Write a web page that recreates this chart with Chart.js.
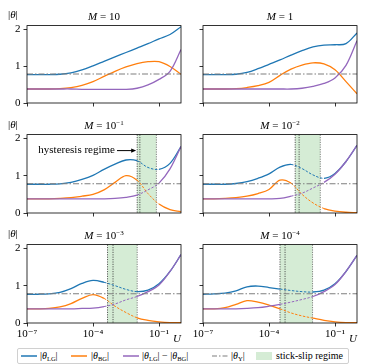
<!DOCTYPE html>
<html>
<head>
<meta charset="utf-8">
<script src="https://cdn.jsdelivr.net/npm/chart.js@4.4.0/dist/chart.umd.min.js"></script>
<style>
  body { margin: 0; background: #fff; width: 367px; height: 364px; position: relative; overflow: hidden;
         font-family: "Liberation Serif", "DejaVu Serif", serif; color: #000; }
  canvas { position: absolute; }
  .ttl { position: absolute; width: 154px; text-align: center; font-size: 11px; line-height: 11px; white-space: nowrap; }
  .lab { position: absolute; font-size: 11px; line-height: 11px; white-space: nowrap; }
  sup { font-size: 7px; line-height: 0; vertical-align: 4px; }
  sub { font-size: 6.5px; line-height: 0; vertical-align: -2px; }
  #legend { position: absolute; left: 17px; top: 348px; width: 330px; height: 14px; border: 1px solid #d0d0d0; border-radius: 2px; }
  #legend span { position: absolute; top: 1px; font-size: 10px; line-height: 12px; white-space: nowrap; }
  #legend svg { position: absolute; top: 0; }
</style>
</head>
<body>
<div id="legend">
  <svg style="left:3px" width="16" height="14"><line x1="0" y1="7" x2="16" y2="7" stroke="#1f77b4" stroke-width="1.5"/></svg>
  <span style="left:22px">|<i>θ</i><sub>LG</sub>|</span>
  <svg style="left:53px" width="16" height="14"><line x1="0" y1="7" x2="16" y2="7" stroke="#ff7f0e" stroke-width="1.5"/></svg>
  <span style="left:73px">|<i>θ</i><sub>BG</sub>|</span>
  <svg style="left:105px" width="16" height="14"><line x1="0" y1="7" x2="16" y2="7" stroke="#9467bd" stroke-width="1.5"/></svg>
  <span style="left:124px">|<i>θ</i><sub>LG</sub>| − |<i>θ</i><sub>BG</sub>|</span>
  <svg style="left:194px" width="16" height="14"><line x1="0" y1="7" x2="16" y2="7" stroke="#7f7f7f" stroke-width="1.2" stroke-dasharray="5,2,1.5,2"/></svg>
  <span style="left:213px">|<i>θ</i><sub>Y</sub>|</span>
  <svg style="left:238px" width="16" height="14"><rect x="0" y="3" width="16" height="8" fill="rgba(44,160,44,0.2)"/></svg>
  <span style="left:258px">stick-slip regime</span>
</div>
<script>
// log-spaced U values shared by all panels
const U = [1e-7, 3.16e-7, 1e-6, 3.16e-6, 1e-5, 3.16e-5, 1e-4, 3.16e-4, 1e-3, 3.16e-3, 1e-2, 3.16e-2, 1e-1, 3.16e-1, 1];
const xTicks = [1e-7, 1e-4, 1e-1];
const xTickLabels = ['10⁻⁷', '10⁻⁴', '10⁻¹'];
const yTicks = [0, 1, 2];
const mLabels = ['10', '1', '10<sup>−1</sup>', '10<sup>−2</sup>', '10<sup>−3</sup>', '10<sup>−4</sup>'];
const thetaY = 0.785;

// M = 10
const lgM10 = [0.77, 0.77, 0.77, 0.78, 0.82, 0.90, 1.01, 1.13, 1.25, 1.37, 1.49, 1.61, 1.74, 1.86, 2.07];
const bgM10 = [0.38, 0.38, 0.38, 0.39, 0.42, 0.48, 0.58, 0.72, 0.86, 0.98, 1.07, 1.12, 1.12, 0.99, 0.78];
const dfM10 = [0.38, 0.38, 0.38, 0.38, 0.38, 0.37, 0.37, 0.37, 0.37, 0.37, 0.40, 0.49, 0.64, 0.86, 1.45];
// M = 1
const lgM1 = [0.77, 0.77, 0.77, 0.78, 0.83, 0.93, 1.05, 1.17, 1.30, 1.42, 1.52, 1.57, 1.58, 1.61, 1.90];
const bgM1 = [0.38, 0.38, 0.38, 0.39, 0.42, 0.47, 0.56, 0.75, 0.92, 1.03, 1.09, 1.06, 0.90, 0.58, 0.25];
const dfM1 = [0.38, 0.38, 0.38, 0.38, 0.38, 0.38, 0.38, 0.38, 0.38, 0.40, 0.45, 0.53, 0.68, 1.02, 1.69];
// M = 1e-1
const lgMm1 = [0.77, 0.77, 0.77, 0.78, 0.82, 0.90, 1.01, 1.17, 1.31, 1.42, 1.40, 1.22, 1.17, 1.33, 1.78];
const bgMm1 = [0.38, 0.38, 0.38, 0.39, 0.41, 0.45, 0.50, 0.62, 0.82, 1.00, 0.88, 0.52, 0.24, 0.09, 0.03];
const dfMm1 = [0.38, 0.38, 0.38, 0.38, 0.38, 0.38, 0.38, 0.38, 0.39, 0.42, 0.48, 0.62, 0.80, 1.18, 1.78];
// M = 1e-2
const lgMm2 = [0.77, 0.77, 0.77, 0.79, 0.84, 0.93, 1.05, 1.23, 1.30, 1.19, 1.02, 0.93, 1.06, 1.38, 1.81];
const bgMm2 = [0.38, 0.38, 0.39, 0.41, 0.45, 0.52, 0.63, 0.88, 0.80, 0.50, 0.27, 0.12, 0.05, 0.02, 0.01];
const dfMm2 = [0.38, 0.38, 0.38, 0.38, 0.38, 0.38, 0.38, 0.39, 0.45, 0.53, 0.67, 0.82, 1.04, 1.38, 1.81];
// M = 1e-3
const lgMm3 = [0.77, 0.77, 0.78, 0.82, 0.92, 1.06, 1.14, 1.09, 1.00, 0.90, 0.84, 0.88, 1.05, 1.38, 1.83];
const bgMm3 = [0.38, 0.38, 0.39, 0.43, 0.52, 0.66, 0.76, 0.66, 0.45, 0.28, 0.14, 0.07, 0.03, 0.01, 0.01];
const dfMm3 = [0.38, 0.38, 0.38, 0.38, 0.38, 0.39, 0.40, 0.44, 0.51, 0.62, 0.71, 0.84, 1.02, 1.38, 1.83];
// M = 1e-4
const lgMm4 = [0.77, 0.78, 0.80, 0.86, 0.97, 0.99, 0.95, 0.91, 0.87, 0.84, 0.83, 0.88, 1.05, 1.38, 1.81];
const bgMm4 = [0.38, 0.38, 0.41, 0.50, 0.60, 0.56, 0.48, 0.38, 0.27, 0.19, 0.13, 0.07, 0.03, 0.01, 0.01];
const dfMm4 = [0.38, 0.38, 0.38, 0.38, 0.39, 0.41, 0.45, 0.50, 0.56, 0.63, 0.71, 0.84, 1.03, 1.38, 1.81];

// stick-slip bands: [start, inner line, end] in U
const bandMm1 = [0.0102, 0.0135, 0.0759];
const bandMm2 = [0.00155, 0.00234, 0.0214];
const bandMm3 = [0.000457, 0.000813, 0.0102];
const bandMm4 = [0.000316, 0.000537, 0.00955];

const panels = [
  { lg: lgM10, bg: bgM10, df: dfM10, band: null },
  { lg: lgM1, bg: bgM1, df: dfM1, band: null },
  { lg: lgMm1, bg: bgMm1, df: dfMm1, band: bandMm1, note: true },
  { lg: lgMm2, bg: bgMm2, df: dfMm2, band: bandMm2 },
  { lg: lgMm3, bg: bgMm3, df: dfMm3, band: bandMm3 },
  { lg: lgMm4, bg: bgMm4, df: dfMm4, band: bandMm4 }
];

// layout of plot areas (page pixels)
const colL = [27, 203];
const rowT = [21.5, 131, 240.5];
const rowH = [81, 82, 82];
const W = 154;
const FONT = "'Liberation Serif', 'DejaVu Serif', serif";

function pts(arr) { return arr.map((v, i) => ({ x: U[i], y: v })); }

function bandSeg(band) {
  return ctx => {
    if (!band) return false;
    const m = Math.sqrt(ctx.p0.parsed.x * ctx.p1.parsed.x);
    return m > band[0] && m < band[2];
  };
}

function makePlugin(p) {
  return {
    id: 'extras',
    beforeDatasetsDraw(chart) {
      const { ctx, chartArea: a } = chart;
      const xs = chart.scales.x;
      if (!p.band) return;
      const [x1, x2, x3] = p.band.map(v => xs.getPixelForValue(v));
      ctx.save();
      ctx.fillStyle = 'rgba(44,160,44,0.2)';
      ctx.fillRect(x1, a.top, x3 - x1, a.bottom - a.top);
      ctx.lineWidth = 0.8;
      ctx.setLineDash([1.2, 1.2]);
      [[x1, '#333'], [x2, '#333'], [x3, '#666']].forEach(([x, c]) => {
        ctx.strokeStyle = c;
        ctx.beginPath(); ctx.moveTo(x, a.top); ctx.lineTo(x, a.bottom); ctx.stroke();
      });
      ctx.restore();
    },
    afterDraw(chart) {
      const { ctx, chartArea: a } = chart;
      ctx.save();
      ctx.strokeStyle = '#000';
      ctx.lineWidth = 0.8;
      ctx.strokeRect(a.left, a.top, a.right - a.left, a.bottom - a.top);
      if (p.note) {
        const xs = chart.scales.x;
        const y = a.top + 16;
        const xEnd = xs.getPixelForValue(p.band[0]) - 1;
        ctx.fillStyle = '#000';
        ctx.font = "11px " + FONT;
        ctx.textAlign = 'right';
        ctx.textBaseline = 'middle';
        ctx.fillText('hysteresis regime', a.left + 88, y);
        ctx.lineWidth = 1;
        ctx.beginPath(); ctx.moveTo(a.left + 90, y); ctx.lineTo(xEnd - 4, y); ctx.stroke();
        ctx.beginPath(); ctx.moveTo(xEnd, y); ctx.lineTo(xEnd - 5, y - 2.2); ctx.lineTo(xEnd - 5, y + 2.2); ctx.closePath(); ctx.fill();
      }
      ctx.restore();
    }
  };
}

// higher order is drawn first, so purple ends up over blue like in the original
function lineSet(data, color, band, order) {
  const seg = bandSeg(band);
  return {
    data: pts(data),
    borderColor: color,
    borderWidth: 1.3,
    pointRadius: 0,
    tension: 0.35,
    order: order,
    segment: {
      borderDash: c => seg(c) ? [2.5, 1.5] : undefined,
      borderWidth: c => seg(c) ? 1 : undefined
    }
  };
}

panels.forEach((p, i) => {
  const col = i % 2, row = Math.floor(i / 2);
  const L = colL[col], T = rowT[row], H = rowH[row];

  const cv = document.createElement('canvas');
  cv.width = W + 36; cv.height = H + 28;
  cv.style.left = (L - 30) + 'px';
  cv.style.top = (T - 6) + 'px';
  document.body.appendChild(cv);

  const ttl = document.createElement('div');
  ttl.className = 'ttl';
  ttl.style.left = L + 'px';
  ttl.style.top = (T - 11) + 'px';
  ttl.innerHTML = '<i>M</i> = ' + mLabels[i];
  document.body.appendChild(ttl);

  if (col === 0) {
    const th = document.createElement('div');
    th.className = 'lab';
    th.style.left = '8px';
    th.style.top = (T - 12.5) + 'px';
    th.innerHTML = '|<i>θ</i>|';
    document.body.appendChild(th);
  }
  if (row === 2) {
    const u = document.createElement('div');
    u.className = 'lab';
    u.style.left = (L + W - 8) + 'px';
    u.style.top = '333px';
    u.innerHTML = '<i>U</i>';
    document.body.appendChild(u);
  }

  new Chart(cv.getContext('2d'), {
    type: 'line',
    data: {
      datasets: [
        lineSet(p.lg, '#1f77b4', p.band, 3),
        lineSet(p.bg, '#ff7f0e', p.band, 2),
        lineSet(p.df, '#9467bd', p.band, 1),
        {
          data: [{ x: U[0], y: thetaY }, { x: U[U.length - 1], y: thetaY }],
          borderColor: '#7f7f7f',
          borderWidth: 1.1,
          borderDash: [6, 2, 1.5, 2],
          pointRadius: 0,
          order: 0
        }
      ]
    },
    options: {
      responsive: false,
      animation: false,
      devicePixelRatio: 1,
      layout: { padding: { left: 0, top: 6, right: 6, bottom: 0 } },
      plugins: { legend: { display: false }, tooltip: { enabled: false } },
      scales: {
        x: {
          type: 'logarithmic',
          min: 1e-7,
          max: 1,
          afterBuildTicks: s => { s.ticks = xTicks.map(v => ({ value: v })); },
          afterFit: s => { s.height = 22; },
          border: { display: false },
          grid: { drawOnChartArea: false, drawTicks: true, tickLength: 3.5, color: '#000', lineWidth: 0.8 },
          ticks: {
            autoSkip: false, maxRotation: 0, padding: 1, color: '#000',
            font: { family: FONT, size: 11 },
            callback: (v, k) => row === 2 ? xTickLabels[k] : ''
          }
        },
        y: {
          min: 0,
          max: 2.1,
          afterBuildTicks: s => { s.ticks = yTicks.map(v => ({ value: v })); },
          afterFit: s => { s.width = 30; },
          border: { display: false },
          grid: { drawOnChartArea: false, drawTicks: true, tickLength: 3.5, color: '#000', lineWidth: 0.8 },
          ticks: {
            padding: 3, color: '#000',
            font: { family: FONT, size: 11 },
            callback: (v, k) => col === 0 ? String(yTicks[k]) : ''
          }
        }
      }
    },
    plugins: [makePlugin(p)]
  });
});
</script>
</body>
</html>
